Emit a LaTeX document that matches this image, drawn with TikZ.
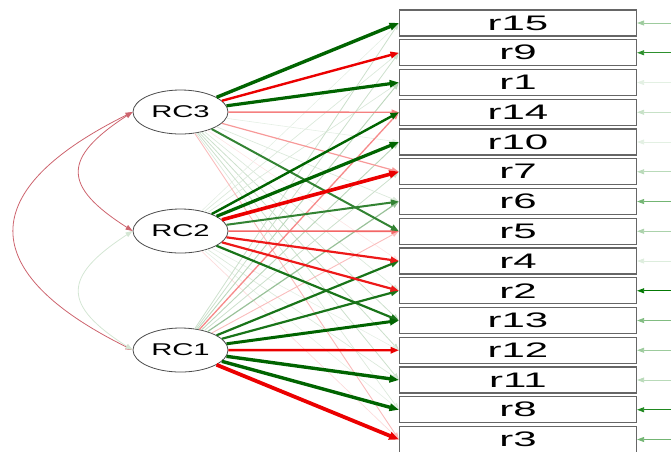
\documentclass[tikz,border=0pt]{standalone}
\usepackage{fontspec}
\setmainfont{Liberation Sans}
\usetikzlibrary{shapes.geometric,arrows.meta}
\definecolor{gp}{RGB}{0,100,0}
\definecolor{rn}{RGB}{235,0,0}
\definecolor{gres}{RGB}{0,120,0}
\definecolor{covc}{RGB}{205,100,110}
\definecolor{covg}{RGB}{170,205,170}
\tikzset{
  lat/.style={ellipse, draw=black!70, line width=0.8pt, fill=white,
    minimum width=95pt, minimum height=44pt, inner sep=0pt,
    font=\fontsize{17}{19}\selectfont},
  man/.style={rectangle, draw=black!60, line width=1.2pt, fill=white,
    minimum width=237pt, minimum height=26pt, inner sep=0pt,
    font=\fontsize{21}{23}\selectfont},
  tipa/.style={-{Triangle[length=6pt 1, width=4pt 1]}},
  cov/.style={line width=0.8pt, {Triangle[length=7pt, width=5pt]}-{Triangle[length=7pt, width=5pt]}},
}
\begin{document}
\begin{tikzpicture}[x=1pt,y=1pt]
\useasboundingbox (0,0) rectangle (671,-451);
% latent variables
\node[lat] (RC3) at (180.5,-112) {\scalebox{1.72}[1]{RC3}};
\node[lat] (RC2) at (180.5,-231) {\scalebox{1.72}[1]{RC2}};
\node[lat] (RC1) at (180.5,-350) {\scalebox{1.72}[1]{RC1}};
% items
\foreach \n/\i in {15/0,9/1,1/2,14/3,10/4,7/5,6/6,5/7,4/8,2/9,13/10,12/11,11/12,8/13,3/14}{
  \node[man] (r\n) at (518,{-23-29.75*\i}) {\scalebox{2}[1]{r\n}};
  \coordinate (e\n) at (671,{-23-29.75*\i});
}
% loadings, weakest first
\foreach \f/\t/\v/\c in {
  RC3/r10/0.10/gp, RC3/r6/0.12/gp, RC3/r4/0.10/rn, RC3/r2/0.12/gp, RC3/r13/0.15/gp,
  RC3/r12/0.15/gp, RC3/r11/0.15/gp, RC3/r8/0.12/gp,
  RC2/r15/0.10/gp, RC2/r9/0.12/gp, RC2/r1/0.12/gp, RC2/r12/0.10/gp, RC2/r11/0.12/gp,
  RC2/r8/0.10/gp, RC2/r3/0.12/rn,
  RC1/r15/0.15/gp, RC1/r9/0.15/gp, RC1/r1/0.18/gp, RC1/r10/0.18/gp, RC1/r7/0.15/gp,
  RC1/r6/0.25/gp, RC1/r5/0.18/rn,
  RC3/r3/0.18/rn, RC3/r7/0.25/rn, RC3/r14/0.30/rn, RC1/r14/0.28/rn, RC2/r5/0.35/rn,
  RC3/r5/0.45/gp, RC2/r6/0.45/gp, RC1/r4/0.50/gp, RC1/r2/0.50/gp, RC2/r4/0.50/rn,
  RC2/r2/0.50/rn, RC2/r13/0.50/gp, RC2/r14/0.55/gp, RC3/r9/0.55/rn, RC1/r12/0.55/rn,
  RC1/r13/0.70/gp, RC3/r1/0.75/gp, RC2/r10/0.75/gp, RC3/r15/0.80/gp, RC1/r11/0.80/gp,
  RC1/r8/0.80/gp, RC2/r7/0.85/rn, RC1/r3/0.90/rn}{
  \pgfmathsetmacro\pct{max(8,min(100,200*\v-10))}
  \pgfmathsetmacro\lw{0.2+4.0*\v}
  \draw[tipa, line width=\lw pt, draw=\c!\pct!white] (\f) -- (\t.west);
}
% residuals
\foreach \n/\v in {15/0.35,9/0.75,1/0.10,14/0.20,10/0.10,7/0.25,6/0.50,5/0.30,4/0.12,
  2/0.90,13/0.45,12/0.35,11/0.25,8/0.80,3/0.50}{
  \pgfmathsetmacro\pct{min(100,110*\v)}
  \draw[-{Triangle[length=7pt, width=5pt]}, line width=0.8pt, draw=gres!\pct!white] (e\n) -- (r\n.east);
}
% covariances
\draw[cov, draw=covc] (RC3.west) .. controls (62,-158) and (62,-186) .. (RC2.west);
\draw[cov, draw=covc] (RC3.west) .. controls (-25,-190) and (-25,-272) .. (RC1.west);
\draw[cov, draw=covg!50!white] (RC2.west) .. controls (62,-277) and (62,-305) .. (RC1.west);
\end{tikzpicture}
\end{document}
